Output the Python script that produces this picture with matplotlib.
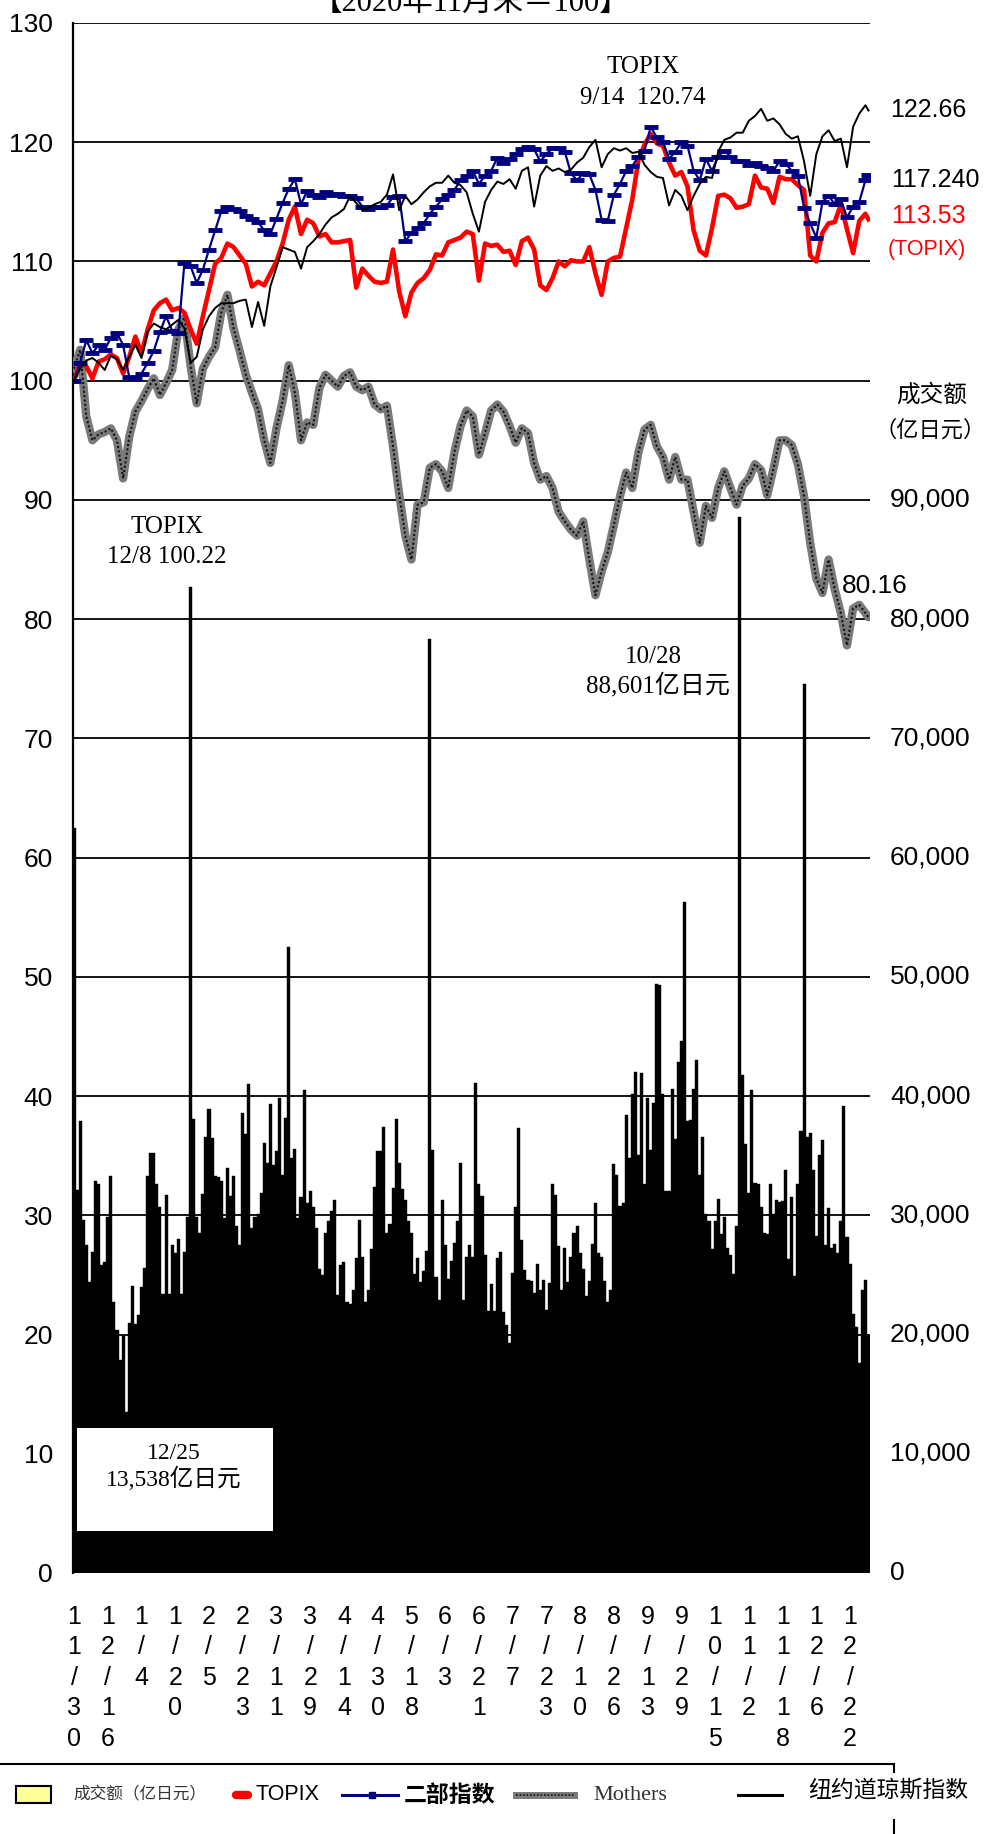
import numpy as np
import matplotlib
matplotlib.use("Agg")
import matplotlib.pyplot as plt
from matplotlib.patches import Rectangle
from matplotlib.lines import Line2D

# fonts
NARROW = ['Liberation Sans Narrow', 'Liberation Sans', 'DejaVu Sans']
SANS = ['Liberation Sans', 'Noto Sans CJK SC', 'DejaVu Sans']
SERIF = ['Liberation Serif', 'Noto Sans CJK SC', 'DejaVu Sans']
CJK = ['Noto Sans CJK SC', 'DejaVu Sans']

# ---- data ----
# daily turnover, in thousand 亿日元 (same scale as the left index axis)
VOL_1 = [62.5, 32.1, 37.9, 29.6, 27.5, 24.4, 26.9, 32.9, 32.6, 25.8,
         26.1, 29.9, 33.3, 22.7, 20.4, 17.9, 19.9, 13.5, 21.0, 24.1,
         20.9, 21.6, 24.0, 25.6, 33.3, 35.2, 35.2, 32.6, 30.7, 23.4,
         31.7, 23.4, 27.5, 26.8, 28.0, 23.4, 26.9, 29.9]
VOL_2 = [82.7, 38.1, 29.9, 28.5, 31.8, 36.6, 38.9, 36.5, 33.3, 33.2,
         32.9, 29.8, 34.0, 31.6, 33.3, 29.1, 27.5, 38.6, 36.8, 41.0,
         28.9, 29.9, 30.1, 31.9, 36.1, 34.4, 39.3, 34.2, 35.4, 39.8,
         33.4, 38.2]
VOL_3 = [52.5, 34.8, 35.6, 29.8, 31.5, 40.5, 31.0, 32.0, 30.7, 28.9,
         25.5, 25.0, 28.5, 29.5, 30.4, 31.3, 23.3, 25.8, 26.1, 22.7,
         22.6, 23.7, 26.4, 29.6, 26.5, 22.7, 23.7, 27.2, 32.4, 35.4,
         35.4, 37.4, 28.5, 29.3, 32.3, 38.1, 34.4, 32.2, 31.3, 29.5,
         28.5, 25.1, 26.4, 24.4, 25.3, 27.0]
VOL_4 = [78.3, 35.5, 24.8, 22.9, 31.3, 27.5, 24.7, 26.2, 27.7, 29.5,
         34.4, 22.9, 26.5]
VOL_5 = [27.5, 26.5, 41.1, 32.6, 31.6, 26.7, 22.0, 24.2, 22.0, 26.4,
         26.9, 21.9, 20.8, 19.3, 25.2, 30.7, 37.3, 27.9, 25.4, 24.6,
         24.5, 23.5, 25.9, 23.7, 24.6, 22.1, 24.3, 32.6, 31.7, 27.4,
         23.7, 27.3, 24.4, 26.5, 28.5, 29.1, 26.8, 25.5, 23.2, 24.5,
         27.6, 31.0, 26.8, 26.5, 24.5, 22.7, 23.7, 34.3, 33.4, 30.8,
         31.0, 38.4, 34.8, 40.2, 42.0, 35.1, 41.9, 32.6, 39.8, 35.5,
         39.4, 49.4, 49.3, 40.2, 32.0, 32.0, 40.6, 36.4, 42.9, 44.6,
         56.3, 37.9, 38.0, 40.6, 43.0, 33.4, 36.6, 30.1, 29.5, 27.2,
         29.5, 31.4, 28.4, 29.9, 27.3, 26.7, 25.1, 29.1, 88.6, 41.8,
         36.0, 31.9, 40.5, 32.7, 32.6, 30.7, 28.5, 28.4, 32.6, 30.1,
         31.3, 31.1, 31.2, 33.8, 26.3, 31.5, 24.9, 32.6, 37.1, 74.6,
         36.6, 36.9, 33.8, 28.3, 35.1, 36.3, 27.5, 30.6, 27.3, 27.6,
         26.8, 29.5, 39.2, 28.2, 25.9, 21.7, 20.6, 17.6, 23.7, 24.6,
         20.0]

# index lines (2020/11 end = 100), read every second session + last one
TOPIX = [100.0, 101.5, 101.2, 100.2, 101.6, 101.8, 102.2, 101.9, 100.6, 102.0,
         103.7, 102.3, 104.3, 105.9, 106.5, 106.8, 105.9, 106.1, 105.7, 104.3,
         103.1, 105.4, 107.6, 109.8, 110.3, 111.5, 111.2, 110.5, 109.8, 107.9,
         108.3, 108.0, 109.0, 110.0, 111.5, 113.5, 114.6, 112.3, 113.5, 113.2,
         112.1, 112.3, 111.6, 111.6, 111.7, 111.8, 107.8, 109.4, 108.8, 108.3,
         108.2, 108.3, 111.0, 107.5, 105.4, 107.4, 108.2, 108.6, 109.3, 110.6,
         110.5, 111.6, 111.8, 112.0, 112.5, 112.3, 108.4, 111.5, 111.3, 111.4,
         110.8, 110.9, 109.7, 111.7, 112.0, 111.0, 108.0, 107.6, 108.6, 110.0,
         109.6, 110.1, 110.0, 110.0, 111.2, 109.0, 107.2, 110.0, 110.3, 110.4,
         112.8, 115.2, 118.5, 119.8, 120.7, 119.9, 119.7, 118.3, 117.2, 117.5,
         116.3, 112.6, 110.9, 110.5, 112.8, 115.5, 115.6, 115.3, 114.5, 114.6,
         114.8, 117.2, 116.2, 116.1, 114.9, 117.1, 116.9, 116.9, 116.4, 116.0,
         110.5, 110.0, 112.4, 113.2, 113.3, 114.8, 112.7, 110.7, 113.4, 114.0,
         113.53]
NIBU = [100.0, 101.5, 103.4, 102.3, 103.0, 102.6, 103.6, 104.0, 103.0, 100.3,
        100.2, 100.6, 101.5, 102.5, 104.1, 105.4, 104.2, 104.0, 109.9, 109.6,
        108.2, 109.3, 111.0, 112.6, 114.2, 114.6, 114.4, 114.2, 113.8, 113.6,
        113.3, 112.6, 112.3, 113.6, 114.9, 116.1, 116.9, 114.8, 115.9, 115.6,
        115.4, 115.8, 115.6, 115.7, 115.5, 115.5, 115.3, 114.6, 114.4, 114.6,
        114.6, 114.7, 115.4, 115.5, 111.7, 112.4, 112.8, 113.2, 114.0, 114.6,
        115.2, 115.6, 116.0, 116.8, 117.2, 117.6, 116.5, 117.2, 117.6, 118.7,
        118.3, 118.6, 119.0, 119.4, 119.6, 119.4, 118.4, 119.0, 119.5, 119.5,
        119.2, 117.4, 116.8, 117.4, 117.3, 116.0, 113.5, 113.4, 115.6, 116.5,
        117.6, 118.0, 118.8, 119.3, 121.3, 120.4, 120.0, 118.6, 119.2, 120.0,
        119.7, 117.6, 116.8, 118.6, 117.6, 118.8, 119.3, 118.8, 118.4, 118.4,
        118.1, 118.3, 118.0, 117.8, 117.6, 118.4, 118.2, 117.6, 117.2, 114.5,
        113.2, 112.0, 115.0, 115.5, 114.8, 115.2, 113.7, 114.6, 115.0, 116.8,
        117.24]
MOTHERS = [101.0, 102.6, 97.0, 95.0, 95.5, 95.7, 96.0, 95.0, 91.8, 95.3,
           97.4, 98.3, 99.3, 100.2, 98.8, 99.8, 100.9, 104.3, 105.3, 101.2,
           98.1, 101.0, 102.0, 102.8, 105.7, 107.2, 104.4, 102.5, 100.5, 99.0,
           97.6, 95.0, 93.1, 96.0, 98.3, 101.3, 99.0, 95.0, 96.5, 96.3,
           99.4, 100.5, 100.0, 99.5, 100.4, 100.7, 99.5, 99.2, 99.5, 98.0,
           97.6, 97.9, 94.5, 90.5, 87.0, 85.0, 89.6, 89.8, 92.7, 93.0,
           92.4, 91.0, 94.0, 96.2, 97.5, 97.0, 93.8, 95.6, 97.5, 98.0,
           97.4, 96.2, 94.8, 96.0, 95.6, 93.1, 91.7, 92.0, 91.0, 89.0,
           88.2, 87.5, 87.0, 88.2, 85.0, 82.0, 84.0, 85.6, 87.9, 90.3,
           92.3, 91.0, 94.0, 95.9, 96.3, 94.5, 93.6, 91.7, 93.6, 91.7,
           91.7, 89.0, 86.4, 89.5, 88.5, 91.0, 92.4, 91.0, 89.6, 91.2,
           91.8, 93.0, 92.5, 90.4, 92.6, 95.0, 95.0, 94.6, 93.0, 90.3,
           86.4, 83.4, 82.2, 85.0, 82.5, 80.5, 77.8, 80.9, 81.2, 80.5,
           80.16]
DOW = [100.0, 101.0, 101.7, 101.9, 101.5, 100.9, 102.1, 101.8, 100.9, 102.0,
       103.0, 101.9, 104.1, 104.8, 104.5, 104.3, 104.7, 105.1, 104.4, 101.5,
       102.0, 104.3, 105.4, 106.1, 106.5, 106.5, 106.5, 106.7, 106.8, 104.5,
       106.6, 104.6, 107.9, 109.5, 111.2, 111.0, 110.8, 109.4, 111.2, 111.7,
       112.3, 113.1, 113.7, 114.0, 114.4, 115.5, 114.9, 114.3, 114.5, 114.8,
       115.0, 115.6, 117.3, 114.3, 115.5, 114.8, 115.2, 115.8, 116.3, 116.6,
       116.6, 117.2, 116.6, 116.4, 115.8, 114.0, 112.5, 115.0, 116.0, 116.7,
       116.5, 116.9, 116.1, 117.6, 117.9, 114.6, 117.2, 118.0, 117.6, 117.8,
       117.5, 117.7, 118.3, 118.7, 119.6, 120.2, 117.9, 119.0, 119.5, 119.3,
       119.5, 119.1, 119.2, 118.1, 117.5, 117.1, 117.0, 114.7, 116.0, 115.5,
       114.3, 115.5, 116.5, 117.1, 117.0, 119.2, 120.2, 120.4, 120.8, 120.8,
       121.8, 122.2, 122.8, 121.8, 122.0, 121.5, 120.7, 120.3, 120.5, 118.4,
       115.5, 119.0, 120.5, 121.0, 120.1, 120.3, 117.9, 121.3, 122.4, 123.1,
       122.66]

DATE_LABELS = ['11/30', '12/16', '1/4', '1/20', '2/5', '2/23', '3/11', '3/29',
               '4/14', '4/30', '5/18', '6/3', '6/21', '7/7', '7/23', '8/10',
               '8/26', '9/13', '9/29', '10/15', '11/2', '11/18', '12/6', '12/22']
RIGHT_TICKS = [0, 10, 20, 30, 40, 50, 60, 70, 80, 90]

volume = np.array(VOL_1 + VOL_2 + VOL_3 + VOL_4 + VOL_5)
n_days = len(volume)
line_x = np.r_[np.arange(0, n_days, 2), n_days - 1]

# ---- figure ----
W, H = 986, 1834
fig = plt.figure(figsize=(W / 100, H / 100), dpi=100)


def px(x, y):
    # pixel position -> figure fraction
    return x / W, 1 - y / H


ax = fig.add_axes([72.5 / W, 1 - 1573 / H, (870 - 72.5) / W, (1573 - 23) / H])
ax.set_xlim(-0.5, n_days - 0.5)
ax.set_ylim(0, 130)

for v in range(10, 131, 10):
    ax.axhline(v, color='black', lw=1.3, zorder=0.5)

ax.bar(np.arange(n_days), volume, width=1.0, color='black',
       edgecolor='black', linewidth=0.3, zorder=1)

ax.plot(line_x, MOTHERS, color='#7a7a7a', lw=6, zorder=3,
        solid_joinstyle='round', solid_capstyle='round')
ax.plot(line_x, MOTHERS, color='#111111', lw=1.5, ls=(0, (1, 1.1)), zorder=3.1)
ax.plot(line_x, TOPIX, color='#ff0000', lw=3.3, zorder=4, solid_joinstyle='round')
ax.plot(line_x, NIBU, color='#000080', lw=1.6, marker='_', ms=9.5, mew=3.5, zorder=5)
ax.plot(line_x, DOW, color='black', lw=1.4, zorder=6)

for side in ['top', 'right', 'bottom']:
    ax.spines[side].set_visible(False)
ax.spines['left'].set_linewidth(1.6)

ax.set_yticks(range(0, 131, 10))
ax.tick_params(axis='y', length=0, pad=14, labelsize=19)
for t in ax.get_yticklabels():
    t.set_family(NARROW)

tick_pos = np.arange(0, n_days, 11)[:len(DATE_LABELS)]
ax.set_xticks(tick_pos, labels=['\n'.join(s) for s in DATE_LABELS])
ax.tick_params(axis='x', length=0, pad=23, labelsize=18)
for t in ax.get_xticklabels():
    t.set_family(NARROW)
    t.set_linespacing(1.34)
    t.set_verticalalignment('top')

# right hand turnover scale
for v in RIGHT_TICKS:
    ax.text(1.0251, v, f'{v * 1000:,}', transform=ax.get_yaxis_transform(),
            ha='left', va='center', fontsize=19, family=NARROW)

# annotations inside the plot
ann = dict(ha='center', va='center', fontsize=18, family=SERIF, zorder=12)
ax.text(185.5, 126.3, 'TOPIX', **ann)
ax.text(185.5, 123.7, '9/14  120.74', **ann)
ax.text(30.2, 87.7, 'TOPIX', **ann)
ax.text(30.2, 85.2, '12/8 100.22', **ann)
ax.text(189, 76.8, '10/28', **ann)
ax.text(190.5, 74.5, '88,601亿日元', **ann)
ax.text(261, 82.8, '80.16', ha='center', va='center', fontsize=19, family=NARROW)

ax.add_patch(Rectangle((1.0, 3.5), 63.9, 8.7, facecolor='white',
                       edgecolor='none', zorder=10))
ax.text(32.6, 10.0, '12/25', ha='center', va='center', fontsize=17,
        family=SERIF, zorder=12)
ax.text(32.6, 7.9, '13,538亿日元', ha='center', va='center', fontsize=17,
        family=SERIF, zorder=12)

# texts outside the plot (title sits at the very top edge, as in the source)
fig.text(*px(471, 11), '【2020年11月末＝100】', ha='center', va='baseline',
         fontsize=22, family=SERIF)
fig.text(*px(890, 110), '122.66', ha='left', va='center', fontsize=18, family=NARROW)
fig.text(*px(891, 180), '117.240', ha='left', va='center', fontsize=18, family=NARROW)
fig.text(*px(891, 216), '113.53', ha='left', va='center', fontsize=18,
         family=NARROW, color='#ff0000')
fig.text(*px(888, 249), '(TOPIX)', ha='left', va='center', fontsize=15.5,
         family=SANS, color='#ff0000')
fig.text(*px(932, 395), '成交额', ha='center', va='center', fontsize=17, family=SERIF)
fig.text(*px(874, 431), '（亿日元）', ha='left', va='center', fontsize=16, family=SERIF)

# legend strip
fig.add_artist(Line2D([0, 894 / W], [1 - 1764 / H] * 2, color='black', lw=1.5))
fig.add_artist(Line2D([894 / W] * 2, [1 - 1764 / H, 1 - 1772 / H], color='black', lw=1.5))
fig.add_artist(Line2D([894 / W] * 2, [1 - 1820 / H, 0], color='black', lw=1.5))

ly = 1795
x0, y0 = px(16, ly + 8)
fig.add_artist(Rectangle((x0, y0), 35 / W, 17 / H, facecolor='#ffff99',
                         edgecolor='black', lw=1.5))
fig.text(*px(73, ly), '成交额（亿日元）', ha='left', va='center', fontsize=12,
         family=SERIF, color='#333333')
fig.add_artist(Line2D([236 / W, 248 / W], [1 - ly / H] * 2, color='#ff0000', lw=6,
                      solid_capstyle='round'))
fig.text(*px(255, ly), 'TOPIX', ha='left', va='center', fontsize=15.5, family=SANS)
fig.add_artist(Line2D([342 / W, 398 / W], [1 - ly / H] * 2, color='#000080', lw=2.2))
fig.add_artist(Line2D([372 / W], [1 - ly / H], color='#000080', marker='s', ms=5))
fig.text(*px(404, ly), '二部指数', ha='left', va='center', fontsize=16.5,
         family=CJK, weight='bold')
fig.add_artist(Line2D([516 / W, 574 / W], [1 - ly / H] * 2, color='#7a7a7a', lw=5))
fig.add_artist(Line2D([516 / W, 574 / W], [1 - ly / H] * 2, color='#111111', lw=1.2,
                      ls=(0, (1, 1.1))))
fig.text(*px(593, ly), 'Mothers', ha='left', va='center', fontsize=16,
         family=SERIF, color='#333333')
fig.add_artist(Line2D([738 / W, 782 / W], [1 - ly / H] * 2, color='black', lw=2.2))
fig.text(*px(808, ly - 5), '纽约道琼斯指数', ha='left', va='center', fontsize=16.5,
         family=CJK)

fig.savefig('out.png', dpi=100)
